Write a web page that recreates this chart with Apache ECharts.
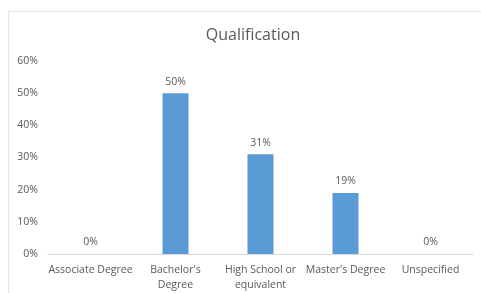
<!DOCTYPE html>
<html>
<head>
<meta charset="utf-8">
<script src="https://cdn.jsdelivr.net/npm/echarts@6/dist/echarts.min.js"></script>
<style>
  html, body { margin: 0; padding: 0; background: #fff; }
  #chart { width: 481px; height: 293px; }
</style>
</head>
<body>
<div id="chart"></div>
<script>
// data
var categories = ["Associate Degree", "Bachelor's\nDegree", "High School or\nequivalent", "Master's Degree", "Unspecified"];
var shares = [0, 50, 31, 19, 0];
var yTicks = [0, 10, 20, 30, 40, 50, 60];

var chart = echarts.init(document.getElementById("chart"));
var textColor = "#595959";

chart.setOption({
  animation: false,
  textStyle: { fontFamily: "Open Sans" },
  // thin frame of the chart area
  graphic: [{
    type: "rect",
    shape: { x: 8.5, y: 11.5, width: 490, height: 300 },
    style: { fill: "none", stroke: "#e3e3e3", lineWidth: 1 },
    silent: true
  }],
  title: {
    text: "Qualification",
    left: 248,
    top: 22,
    textAlign: "center",
    textStyle: { color: textColor, fontSize: 16, fontWeight: "normal", fontFamily: "Open Sans" }
  },
  grid: { left: 48, right: 8, top: 61, bottom: 39 },
  xAxis: {
    type: "category",
    data: categories,
    axisLine: { lineStyle: { color: "#d9d9d9", width: 1 } },
    axisTick: { show: false },
    axisLabel: { color: textColor, fontSize: 10.5, interval: 0, margin: 9, lineHeight: 15 }
  },
  yAxis: {
    type: "value",
    min: yTicks[0],
    max: yTicks[yTicks.length - 1],
    interval: 10,
    splitLine: { show: false },
    axisLine: { show: false },
    axisTick: { show: false },
    axisLabel: { color: textColor, fontSize: 10.5, margin: 10, formatter: "{value}%" }
  },
  series: [{
    type: "bar",
    data: shares,
    barWidth: 26,
    itemStyle: { color: "#5b9bd5" },
    label: {
      show: true,
      position: "top",
      distance: 6,
      color: textColor,
      fontSize: 10.5,
      formatter: "{c}%"
    }
  }]
});
</script>
</body>
</html>
